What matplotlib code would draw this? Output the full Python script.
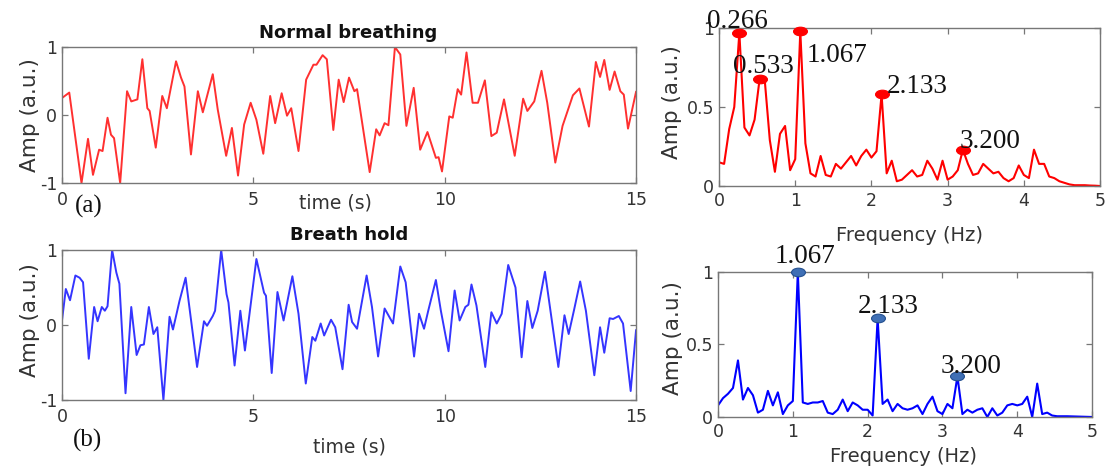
import numpy as np
import matplotlib
matplotlib.use('Agg')
import matplotlib.pyplot as plt
from matplotlib.path import Path
from matplotlib.transforms import Affine2D

# (a) normal breathing, time trace
t_a = [0.00, 0.19, 0.51, 0.68, 0.81, 0.97, 1.06, 1.19, 1.28, 1.36,
       1.52, 1.70, 1.81, 1.97, 2.10, 2.23, 2.29, 2.45, 2.62, 2.74,
       2.98, 3.11, 3.20, 3.37, 3.55, 3.68, 3.94, 4.07, 4.29, 4.44,
       4.60, 4.76, 4.93, 5.08, 5.26, 5.44, 5.57, 5.74, 5.88, 5.99,
       6.18, 6.38, 6.57, 6.65, 6.81, 6.92, 7.09, 7.23, 7.36, 7.50,
       7.64, 7.71, 8.04, 8.21, 8.30, 8.43, 8.53, 8.70, 8.84, 9.00,
       9.19, 9.36, 9.55, 9.77, 9.84, 9.93, 10.12, 10.21, 10.34, 10.43,
       10.57, 10.73, 10.87, 11.05, 11.22, 11.36, 11.55, 11.83, 12.05, 12.16,
       12.34, 12.53, 12.68, 12.89, 13.08, 13.35, 13.52, 13.77, 13.95, 14.06,
       14.17, 14.31, 14.44, 14.59, 14.68, 14.79, 15.00]
amp_a = [0.25, 0.33, -1.00, -0.35, -0.88, -0.51, -0.53, -0.04, -0.29, -0.34,
         -1.00, 0.35, 0.20, 0.23, 0.82, 0.10, 0.06, -0.48, 0.28, 0.10,
         0.79, 0.55, 0.42, -0.58, 0.35, 0.04, 0.60, 0.08, -0.60, -0.19,
         -0.89, -0.14, 0.18, -0.07, -0.57, 0.28, -0.12, 0.32, -0.01, 0.10,
         -0.53, 0.52, 0.74, 0.74, 0.88, 0.82, -0.22, 0.52, 0.19, 0.55,
         0.35, 0.38, -0.84, -0.21, -0.30, -0.12, -0.15, 1.00, 0.89, -0.16,
         0.40, -0.51, -0.25, -0.63, -0.62, -0.83, -0.02, -0.04, 0.38, 0.30,
         0.92, 0.18, 0.18, 0.51, -0.31, -0.26, 0.23, -0.60, 0.24, 0.06,
         0.20, 0.65, 0.18, -0.70, -0.16, 0.29, 0.39, -0.17, 0.78, 0.56,
         0.81, 0.37, 0.64, 0.35, 0.30, -0.20, 0.34]

# (b) breath hold, time trace
t_b = [0.00, 0.10, 0.21, 0.35, 0.46, 0.55, 0.70, 0.84, 0.93, 1.04,
       1.12, 1.19, 1.31, 1.42, 1.50, 1.66, 1.81, 1.95, 2.05, 2.14,
       2.27, 2.39, 2.49, 2.65, 2.81, 2.90, 3.07, 3.23, 3.53, 3.71,
       3.79, 3.94, 4.00, 4.16, 4.30, 4.35, 4.51, 4.66, 4.78, 5.08,
       5.28, 5.33, 5.48, 5.63, 5.79, 6.02, 6.18, 6.37, 6.54, 6.62,
       6.76, 6.85, 7.03, 7.14, 7.33, 7.49, 7.58, 7.71, 7.96, 8.10,
       8.26, 8.43, 8.65, 8.84, 8.98, 9.20, 9.33, 9.46, 9.57, 9.77,
       9.90, 10.10, 10.26, 10.39, 10.54, 10.62, 10.70, 10.83, 11.06, 11.22,
       11.36, 11.49, 11.66, 11.85, 12.01, 12.16, 12.29, 12.43, 12.62, 12.75,
       12.97, 13.13, 13.24, 13.38, 13.54, 13.69, 13.91, 14.06, 14.17, 14.31,
       14.40, 14.55, 14.66, 14.86, 15.00]
amp_b = [0.06, 0.48, 0.33, 0.66, 0.63, 0.57, -0.45, 0.24, 0.05, 0.24,
         0.19, 0.25, 1.00, 0.70, 0.55, -0.91, 0.24, -0.40, -0.27, -0.26,
         0.24, -0.12, -0.03, -1.00, 0.11, -0.06, 0.32, 0.63, -0.56, 0.05,
         -0.01, 0.12, 0.19, 1.00, 0.41, 0.30, -0.54, 0.19, -0.34, 0.88,
         0.43, 0.39, -0.64, 0.44, 0.06, 0.65, 0.15, -0.78, -0.16, -0.21,
         0.02, -0.14, 0.07, -0.03, -0.59, 0.27, 0.04, -0.05, 0.66, 0.24,
         -0.42, 0.22, 0.02, 0.78, 0.57, -0.42, 0.15, -0.05, 0.19, 0.60,
         0.19, -0.35, 0.46, 0.06, 0.24, 0.27, 0.54, 0.26, -0.56, 0.17,
         0.02, 0.15, 0.80, 0.50, -0.43, 0.32, -0.04, 0.19, 0.71, 0.24,
         -0.56, 0.13, -0.12, 0.20, 0.58, 0.19, -0.67, -0.03, -0.37, 0.09,
         0.08, 0.12, 0.02, -0.88, -0.07]

# spectra, one value per FFT bin (15 s record -> 1/15 Hz spacing)
freq_step = 1 / 15
spec_a = [0.15, 0.14, 0.36, 0.50, 0.97, 0.37, 0.32, 0.42, 0.68, 0.67,
          0.29, 0.09, 0.33, 0.38, 0.10, 0.17, 0.98, 0.27, 0.08, 0.06,
          0.19, 0.07, 0.06, 0.14, 0.11, 0.15, 0.19, 0.13, 0.19, 0.23,
          0.18, 0.22, 0.58, 0.08, 0.16, 0.03, 0.04, 0.07, 0.10, 0.06,
          0.07, 0.16, 0.11, 0.04, 0.16, 0.04, 0.06, 0.10, 0.23, 0.14,
          0.07, 0.08, 0.14, 0.11, 0.08, 0.09, 0.05, 0.03, 0.05, 0.13,
          0.07, 0.05, 0.23, 0.14, 0.14, 0.06, 0.05, 0.03, 0.02, 0.01,
          0.005, 0.005, 0.005, 0.003, 0.002, 0.0]
spec_b = [0.08, 0.13, 0.16, 0.20, 0.39, 0.12, 0.20, 0.15, 0.03, 0.05,
          0.18, 0.08, 0.17, 0.02, 0.08, 0.11, 1.00, 0.10, 0.09, 0.10,
          0.10, 0.11, 0.03, 0.02, 0.05, 0.12, 0.04, 0.10, 0.08, 0.05,
          0.05, 0.01, 0.68, 0.09, 0.12, 0.04, 0.09, 0.06, 0.05, 0.06,
          0.08, 0.02, 0.09, 0.14, 0.04, 0.02, 0.09, 0.06, 0.28, 0.02,
          0.05, 0.03, 0.05, 0.06, 0.00, 0.06, 0.01, 0.03, 0.08, 0.09,
          0.08, 0.09, 0.14, 0.00, 0.23, 0.02, 0.03, 0.01, 0.005, 0.005,
          0.005, 0.004, 0.003, 0.002, 0.001, 0.0]
peaks_a = [4, 8, 16, 32, 48]
peak_labels_a = ['0.266', '0.533', '1.067', '2.133', '3.200']
peaks_b = [16, 32, 48]
peak_labels_b = ['1.067', '2.133', '3.200']

# label offsets in pixels from each marker (left edge, baseline)
offs_a = [(-32, 5), (-27, 6), (6, -31), (5, 1), (-3, 2)]
offs_b = [(-23, 9), (-20, 5), (-17, 3)]

SPINE = '#777777'
TXT = '#333333'
serif = ['Liberation Serif', 'DejaVu Serif']

fig = plt.figure(figsize=(11.05, 4.74), dpi=100)
ax_a = fig.add_axes([0.0561, 0.6139, 0.5195, 0.2869])
ax_b = fig.add_axes([0.0561, 0.1561, 0.5195, 0.3165])
ax_fa = fig.add_axes([0.6507, 0.6076, 0.3448, 0.3333])
ax_fb = fig.add_axes([0.6498, 0.1203, 0.3385, 0.3059])


def style(ax, xpad):
    for s in ax.spines.values():
        s.set_color(SPINE)
        s.set_linewidth(1.0)
    ax.tick_params(direction='in', length=4, width=0.9, color=SPINE,
                   top=True, right=True, labelsize=12.5, labelcolor=TXT)
    ax.tick_params(axis='x', pad=xpad)
    ax.tick_params(axis='y', pad=3.5)


def ylab(ax, x, y):
    ax.text(x, y, 'Amp (a.u.)', transform=ax.transAxes, rotation=90,
            ha='center', va='center', fontsize=15.5, color=TXT)


oval = Path.unit_circle().transformed(Affine2D().scale(1.0, 0.62))

# time traces
for ax, t, a, col in [(ax_a, t_a, amp_a, '#ff3030'), (ax_b, t_b, amp_b, '#3535ff')]:
    ax.plot(t, a, color=col, lw=1.4, solid_joinstyle='round')
    ax.set_xlim(0, 15)
    ax.set_ylim(-1, 1)
    ax.set_xticks([0, 5, 10, 15])
    ax.set_yticks([-1, 0, 1])
    ax.set_yticklabels(['-1', '0', '1'])
    style(ax, 5.5)

ax_a.text(0.498, 1.103, 'Normal breathing', transform=ax_a.transAxes,
          ha='center', va='center', fontsize=13, fontweight='bold', color='#111111')
ax_b.text(0.50, 1.10, 'Breath hold', transform=ax_b.transAxes,
          ha='center', va='center', fontsize=13, fontweight='bold', color='#111111')
ax_a.text(0.476, -0.147, 'time (s)', transform=ax_a.transAxes,
          ha='center', va='center', fontsize=13.5, color=TXT)
ax_b.text(0.50, -0.31, 'time (s)', transform=ax_b.transAxes,
          ha='center', va='center', fontsize=13.5, color=TXT)
ax_a.text(0.047, -0.176, '(a)', transform=ax_a.transAxes, ha='center',
          va='center', fontsize=18, family=serif, color='#111111')
ax_b.text(0.045, -0.267, '(b)', transform=ax_b.transAxes, ha='center',
          va='center', fontsize=18, family=serif, color='#111111')
ylab(ax_a, -0.056, 0.5)
ylab(ax_b, -0.056, 0.53)

# spectra
for ax, spec, col, pk, labs, offs, mface, medge in [
        (ax_fa, spec_a, '#ff0000', peaks_a, peak_labels_a, offs_a, '#ff0000', '#ff0000'),
        (ax_fb, spec_b, '#0000ff', peaks_b, peak_labels_b, offs_b, '#3f6fb5', '#24508f')]:
    freq = np.arange(len(spec)) * freq_step
    ax.plot(freq, spec, color=col, lw=1.5)
    ax.plot(freq[pk], np.array(spec)[pk], ls='none', marker=oval, ms=10,
            mfc=mface, mec=medge, mew=0.8, clip_on=False, zorder=4)
    for i, lab, (dx, dy) in zip(pk, labs, offs):
        ax.annotate(lab, (freq[i], spec[i]), xytext=(dx, dy),
                    textcoords='offset pixels', ha='left', va='baseline',
                    fontsize=19.5, family=serif, color='#111111',
                    annotation_clip=False, zorder=5)
    ax.set_xlim(0, 5)
    ax.set_ylim(0, 1)
    ax.set_xticks([0, 1, 2, 3, 4, 5])
    ax.set_yticks([0, 0.5, 1])
    ax.set_yticklabels(['0', '0.5', '1'])
    style(ax, 4.5)

ax_fa.text(0.50, -0.316, 'Frequency (Hz)', transform=ax_fa.transAxes,
           ha='center', va='center', fontsize=14, color=TXT)
ax_fb.text(0.497, -0.27, 'Frequency (Hz)', transform=ax_fb.transAxes,
           ha='center', va='center', fontsize=14, color=TXT)
ylab(ax_fa, -0.123, 0.53)
ylab(ax_fb, -0.12, 0.545)

fig.savefig('out.png', dpi=100)
